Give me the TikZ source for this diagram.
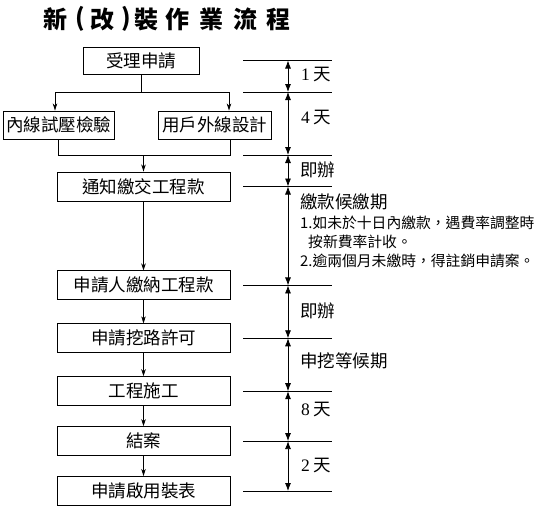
\documentclass[tikz,border=0pt]{standalone}
\usepackage{fontspec}
\setmainfont{Noto Sans CJK TC}
\newfontfamily\numfont{Liberation Serif}
\usetikzlibrary{arrows.meta,positioning,calc}

\begin{document}
\begin{tikzpicture}[x=1pt, y=-1pt,
  box/.style={draw, line width=0.9pt, minimum height=28pt, inner sep=2pt, font=\fontsize{17.5}{17.5}\selectfont},
  flow/.style={box, minimum width=173pt, minimum height=29pt},
  titlech/.style={inner sep=0pt, font=\fontsize{24}{24}\selectfont\bfseries},
  link/.style={line width=0.8pt},
  arr/.style={-{Stealth[length=7pt, width=4.5pt, inset=2pt]}, line width=0.8pt},
  tickline/.style={line width=0.8pt},
  dimarr/.style={{Latex[length=8pt, width=6pt]}-{Latex[length=8pt, width=6pt]}, line width=0.8pt},
  lab/.style={anchor=west, inner sep=0pt, font=\fontsize{17.5}{17.5}\selectfont},
  note/.style={anchor=west, inner sep=0pt, font=\fontsize{14.8}{19}\selectfont},
]
\useasboundingbox (0,0) rectangle (537,507);

\foreach \c/\x [count=\i] in {{新}/55, {(}/80, {改}/102, {)}/126, {裝}/146.5, {作}/177.5, {業}/211.5, {流}/245, {程}/278.5}
  \node[titlech] (ttl\i) at (\x,19) {\c};

\node[box, minimum width=116pt, minimum height=27pt] (apply) at (141,60.5) {受理申請};
\node[box, minimum width=111pt] (inner) at (58.5,125) {內線試壓檢驗};
\node[box, minimum width=113pt] (outer) at (214.5,125) {用戶外線設計};
\node[flow] (notify) at (143.5,186.5) {通知繳交工程款};
\node[flow, below=69pt of notify] (pay) {申請人繳納工程款};
\node[flow, below=23pt of pay] (permit) {申請挖路許可};
\node[flow, below=23pt of permit] (build) {工程施工};
\node[flow, below=20pt of build] (close) {結案};
\node[flow, below=20pt of close] (meter) {申請啟用裝表};

\coordinate (sl) at (55,92);
\coordinate (sr) at (229,92);
\coordinate (jl) at (inner.south |- 0,155);
\coordinate (jr) at (230,155);
\draw[link] (apply.south) -- (apply.south |- sl);
\draw[link] (sl) -- (sr);
\draw[arr] (sl) -- (sl |- inner.north);
\draw[arr] (sr) -- (sr |- outer.north);
\draw[link] (inner.south) -- (jl) -- (jr) -- (jr |- outer.south);
\draw[arr] (notify.north |- jl) -- (notify);
\draw[arr] (notify) -- (pay);
\draw[arr] (pay) -- (permit);
\draw[arr] (permit) -- (build);
\draw[arr] (build) -- (close);
\draw[arr] (close) -- (meter);

\foreach \n [count=\i] in {apply,sl,jl,notify,pay,permit,build,close,meter}
  \coordinate (m\i) at (288,0 |- \n);
\foreach \i in {1,...,9}
  \draw[tickline] ($(m\i)+(-45,0)$) -- ($(m\i)+(44,0)$);
\foreach \j [remember=\j as \i (initially 1)] in {2,...,9}
  \draw[dimarr] (m\i) -- (m\j);

\node[lab] (d1) at (301,75) {{\numfont 1} 天};
\node[lab] (d2) at (301,117) {{\numfont 4} 天};
\node[lab] (d3) at (300,170) {即辦};
\node[lab] (d4) at (300,202) {繳款候繳期};
\node[note] (n1) at (300,223) {1.如未於十日內繳款，遇費率調整時};
\node[note] (n2) at (308,242) {按新費率計收。};
\node[note] (n3) at (300,261) {2.逾兩個月未繳時，得註銷申請案。};
\node[lab] (d5) at (300,311) {即辦};
\node[lab] (d6) at (300,361) {申挖等候期};
\node[lab] (d7) at (301,409) {{\numfont 8} 天};
\node[lab] (d8) at (301,465) {{\numfont 2} 天};
\end{tikzpicture}
\end{document}
